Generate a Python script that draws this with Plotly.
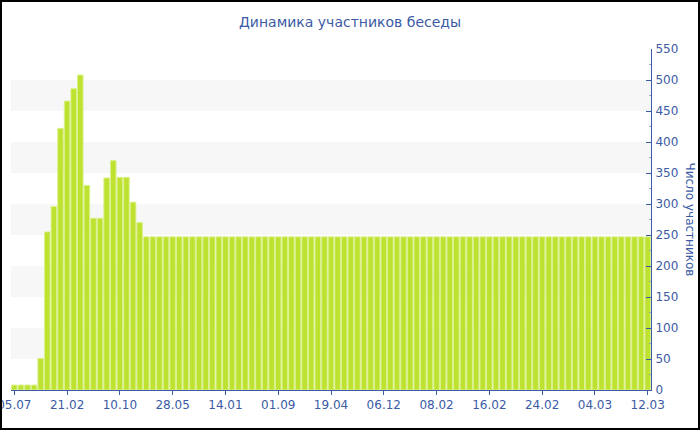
import plotly.graph_objects as go

# Data
tick_labels = ["05.07", "21.02", "10.10", "28.05", "14.01", "01.09", "19.04",
               "06.12", "08.02", "16.02", "24.02", "04.03", "12.03"]
head_values = [8, 8, 8, 8, 51, 255, 296, 422, 466, 486, 508, 330, 277, 277,
               342, 370, 343, 343, 303, 270]
flat_values = [247] * 77
values = head_values + flat_values
positions = list(range(len(values)))
tick_positions = positions[::8]

text_color = "#3b5ba5"
font_family = "Verdana, DejaVu Sans, sans-serif"

fig = go.Figure()
fig.add_trace(go.Bar(
    x=positions, y=values,
    marker=dict(color="#bde22f", line=dict(color="#dcf08f", width=1)),
    hoverinfo="y",
))

W, H = 700, 430
ml, mr, mt, mb = 11, 49, 49, 40
pw, ph = W - ml - mr, H - mt - mb

shapes = []
for lo in range(50, 500, 100):
    shapes.append(dict(type="rect", xref="paper", yref="y", x0=0, x1=1, y0=lo, y1=lo + 50,
                       fillcolor="#f7f7f7", line=dict(width=0), layer="below"))
# figure border
shapes.append(dict(type="rect", xref="paper", yref="paper",
                   x0=-(ml - 1) / pw, x1=1 + (mr - 1) / pw,
                   y0=-(mb - 1) / ph, y1=1 + (mt - 1) / ph,
                   line=dict(color="black", width=2), fillcolor="rgba(0,0,0,0)"))

fig.update_layout(
    width=W, height=H,
    margin=dict(l=ml, r=mr, t=mt, b=mb, autoexpand=False),
    paper_bgcolor="white", plot_bgcolor="white",
    showlegend=False,
    bargap=0.15,
    font=dict(family=font_family, color=text_color, size=12),
    title=dict(text="Динамика участников беседы", x=0.5, xanchor="center",
               y=1 - 22 / H, yanchor="middle", font=dict(size=14, color=text_color)),
    xaxis=dict(range=[-0.5, len(values) - 0.5], tickmode="array",
               tickvals=tick_positions, ticktext=tick_labels, automargin=False,
               ticklabeloverflow="allow",
               showgrid=False, zeroline=False, showline=True,
               linecolor=text_color, linewidth=1, ticks="outside", ticklen=4,
               tickcolor=text_color, tickfont=dict(size=12, color=text_color)),
    yaxis=dict(side="right", range=[0, 550], tickmode="linear", tick0=0, dtick=50,
               automargin=False, ticklabeloverflow="allow",
               showgrid=False, zeroline=False, showline=True,
               linecolor=text_color, linewidth=1, ticks="inside", ticklen=5,
               tickcolor=text_color, ticklabelstandoff=1,
               minor=dict(ticks="inside", ticklen=2, dtick=25, tickcolor="#9aa8cc"),
               tickfont=dict(size=12, color=text_color)),
    shapes=shapes,
    annotations=[dict(text="Число участников", xref="paper", yref="paper",
                      x=1 + 39 / pw, y=0.5, textangle=90, showarrow=False,
                      font=dict(size=12, color=text_color),
                      xanchor="center", yanchor="middle")],
)

fig.write_html("out.html", config={"displayModeBar": False},
               post_script="document.body.style.margin='0';")
